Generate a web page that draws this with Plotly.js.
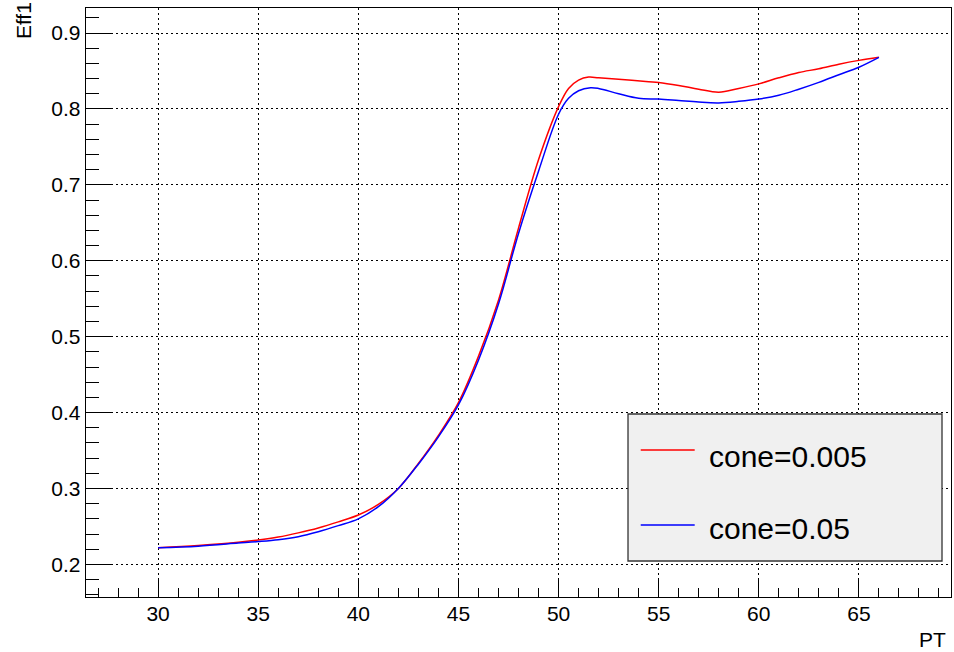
<!DOCTYPE html>
<html>
<head>
<meta charset="utf-8">
<script src="https://cdn.plot.ly/plotly-3.0.1.min.js"></script>
<style>html,body{margin:0;padding:0;background:#fff;}#chart{width:954px;height:652px;}</style>
</head>
<body>
<div id="chart"></div>
<script>
// Data
const seriesNames = ["cone=0.005", "cone=0.05"];
const seriesColors = ["#ff0000", "#0000ff"];

const ptRed = [30, 32, 34, 35, 36, 37, 38, 39, 40, 41, 42, 43, 44, 45, 46, 47, 48, 49, 50, 50.5, 51, 51.5, 52, 53, 54.5, 55, 56, 57, 58, 59, 60, 61, 62, 63, 64, 65, 66];
const effRed = [0.222, 0.225, 0.229, 0.232, 0.236, 0.2415, 0.248, 0.256, 0.265, 0.279, 0.300, 0.333, 0.370, 0.413, 0.474, 0.548, 0.643, 0.733, 0.803, 0.827, 0.838, 0.842, 0.841, 0.839, 0.836, 0.835, 0.831, 0.826, 0.822, 0.827, 0.833, 0.841, 0.848, 0.853, 0.859, 0.864, 0.868];

const ptBlue = [30, 32, 34, 35, 36, 37, 38, 39, 40, 41, 42, 43, 44, 45, 46, 47, 48, 49, 50, 50.5, 51, 51.6, 52, 53, 54, 55, 56, 57, 58, 59, 60, 61, 62, 63, 64, 65, 66];
const effBlue = [0.222, 0.224, 0.228, 0.230, 0.2325, 0.2365, 0.243, 0.251, 0.260, 0.276, 0.300, 0.332, 0.368, 0.410, 0.469, 0.543, 0.636, 0.718, 0.793, 0.814, 0.824, 0.828, 0.827, 0.820, 0.814, 0.813, 0.811, 0.809, 0.808, 0.810, 0.813, 0.818, 0.826, 0.835, 0.845, 0.855, 0.868];

const xTitle = "PT";
const yTitle = "Eff1";

const FONT = "Liberation Sans, Arial, Helvetica, sans-serif";

const traces = [
  {x: ptRed, y: effRed, name: seriesNames[0], type: "scatter", mode: "lines",
   line: {color: seriesColors[0], width: 1.5, shape: "spline", smoothing: 1}, hoverinfo: "x+y"},
  {x: ptBlue, y: effBlue, name: seriesNames[1], type: "scatter", mode: "lines",
   line: {color: seriesColors[1], width: 1.5, shape: "spline", smoothing: 1}, hoverinfo: "x+y"}
];

// legend box geometry (paper coords)
const lgX0 = 0.6266, lgX1 = 0.9896, lgY0 = 0.0611, lgY1 = 0.3107;
const lgLineX0 = 0.6413, lgLineX1 = 0.7037;
const lgRowY = [0.2496, 0.1222];
const lgTextY = [0.2377, 0.1171];
const lgTextX = 0.7179;

const shapes = [
  {type: "rect", xref: "paper", yref: "paper", x0: lgX0, x1: lgX1, y0: lgY0, y1: lgY1,
   fillcolor: "#f0f0f0", line: {color: "#333333", width: 1.3}, layer: "above"}
];
const annotations = [];
seriesNames.forEach((nm, i) => {
  shapes.push({type: "line", xref: "paper", yref: "paper", x0: lgLineX0, x1: lgLineX1,
    y0: lgRowY[i], y1: lgRowY[i], line: {color: seriesColors[i], width: 1.3}, layer: "above"});
  annotations.push({xref: "paper", yref: "paper", x: lgTextX, y: lgTextY[i], xanchor: "left", yanchor: "middle",
    text: nm, showarrow: false, font: {family: FONT, size: 30, color: "#000"}});
});
annotations.push({xref: "paper", yref: "paper", x: 0.996, y: -0.05, xanchor: "right", yanchor: "top",
  text: xTitle, showarrow: false, font: {family: FONT, size: 21, color: "#000"}});
annotations.push({xref: "paper", yref: "paper", x: -0.073, y: 1.014, xanchor: "center", yanchor: "top",
  text: yTitle, textangle: -90, showarrow: false, font: {family: FONT, size: 21, color: "#000"}});

const layout = {
  width: 954, height: 652,
  margin: {l: 86, r: 3, t: 8, b: 55},
  paper_bgcolor: "#ffffff", plot_bgcolor: "#ffffff",
  showlegend: false,
  font: {family: FONT, size: 21, color: "#000"},
  xaxis: {
    range: [26.4, 69.6], dtick: 5, tick0: 0,
    ticks: "inside", ticklen: 17, tickcolor: "#000", tickwidth: 1,
    showline: true, linecolor: "#000", linewidth: 1.3, mirror: true,
    showgrid: true, gridcolor: "#000", gridwidth: 1, griddash: "2px,3px",
    zeroline: false, ticklabelstandoff: -3,
    tickfont: {family: FONT, size: 21, color: "#000"},
    minor: {dtick: 1, tick0: 0, ticks: "inside", ticklen: 9, tickcolor: "#000", tickwidth: 1, showgrid: false}
  },
  yaxis: {
    range: [0.157, 0.933], dtick: 0.1, tick0: 0,
    ticks: "inside", ticklen: 27, tickcolor: "#000", tickwidth: 1,
    showline: true, linecolor: "#000", linewidth: 1.3, mirror: true,
    showgrid: true, gridcolor: "#000", gridwidth: 1, griddash: "2px,3px",
    zeroline: false,
    tickfont: {family: FONT, size: 21, color: "#000"},
    minor: {dtick: 0.02, tick0: 0, ticks: "inside", ticklen: 13, tickcolor: "#000", tickwidth: 1, showgrid: false}
  },
  shapes: shapes,
  annotations: annotations
};

Plotly.newPlot("chart", traces, layout, {displayModeBar: false, staticPlot: true});
</script>
</body>
</html>
